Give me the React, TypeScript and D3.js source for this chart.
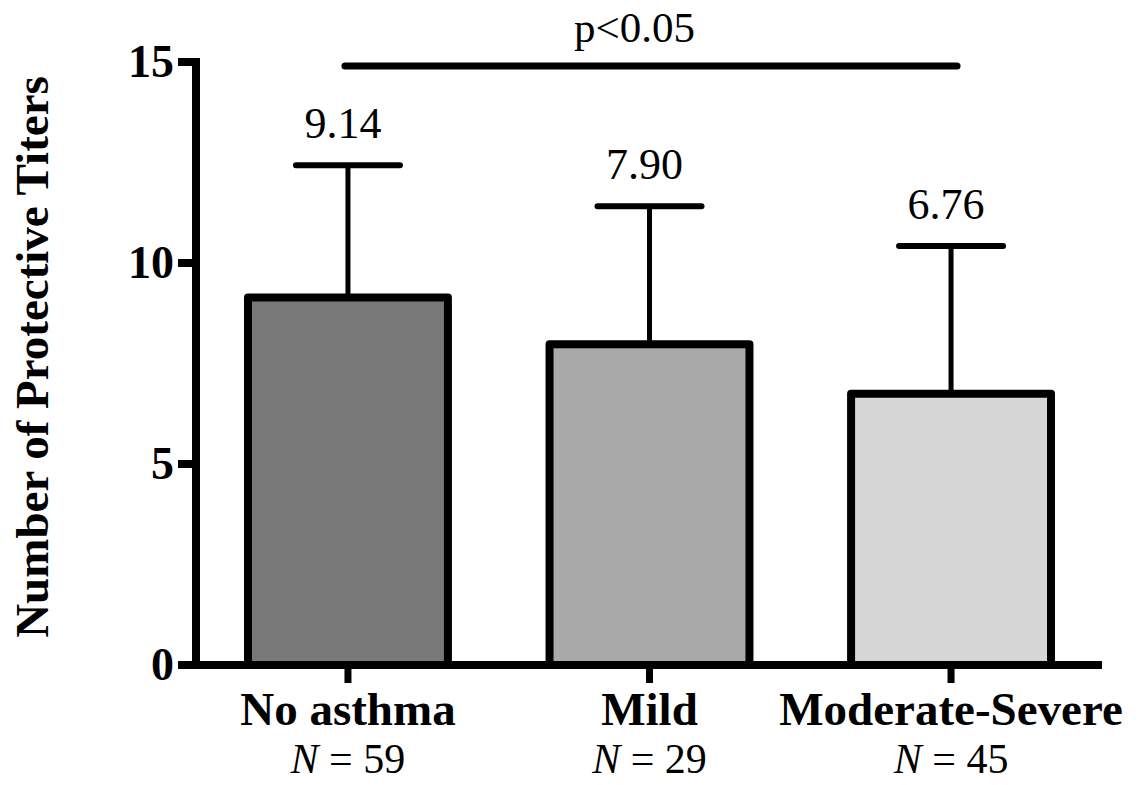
import React from "react";
import * as d3 from "d3";

const categories = ["No asthma", "Mild", "Moderate-Severe"];
const nLabels = ["59", "29", "45"];
const means = [9.14, 7.98, 6.75];
const errorTops = [12.43, 11.41, 10.42];
const valueLabels = ["9.14", "7.90", "6.76"];
const fills = ["#787878", "#a9a9a9", "#d6d6d6"];
const yTickValues = [0, 5, 10, 15];
const sigLabel = "p<0.05";
const yTitle = "Number of Protective Titers";

const W = 1143;
const H = 785;
const FONT = "'Liberation Serif', 'Times New Roman', Times, serif";

export default function App() {
  const x = d3.scaleBand<string>().domain(categories).range([248, 1051]).paddingInner(0.337).paddingOuter(0);
  const y = d3.scaleLinear().domain([0, 15]).range([665, 62]);
  const bw = x.bandwidth();
  const cx = (c: string) => (x(c) as number) + bw / 2;
  const axisX = 196;
  const capHalf = 52;

  return (
    <svg width={W} height={H} style={{ position: "absolute", left: 0, top: 0, background: "#fff" }} fontFamily={FONT}>
      <rect x={0} y={0} width={W} height={H} fill="#fff" />
      {/* error bars */}
      {categories.map((c, i) => (
        <g key={"e" + c}>
          <line x1={cx(c)} x2={cx(c)} y1={y(means[i])} y2={y(errorTops[i])} stroke="#000" strokeWidth={5} />
          <line x1={cx(c) - capHalf} x2={cx(c) + capHalf} y1={y(errorTops[i])} y2={y(errorTops[i])} stroke="#000" strokeWidth={6} strokeLinecap="round" />
        </g>
      ))}
      {/* bars */}
      {categories.map((c, i) => (
        <rect key={"b" + c} x={x(c)} y={y(means[i])} width={bw} height={y(0) - y(means[i])} fill={fills[i]} stroke="#000" strokeWidth={8} strokeLinejoin="round" />
      ))}
      {/* value labels */}
      {categories.map((c, i) => (
        <text key={"v" + c} x={cx(c) - 5} y={y(errorTops[i]) - 27} textAnchor="middle" fontSize={44} fill="#000">
          {valueLabels[i]}
        </text>
      ))}
      {/* y axis */}
      <line x1={axisX} x2={axisX} y1={y(15) - 4} y2={y(0)} stroke="#000" strokeWidth={8} />
      {yTickValues.map((t) => (
        <g key={"yt" + t}>
          <line x1={axisX - 18} x2={axisX} y1={y(t)} y2={y(t)} stroke="#000" strokeWidth={8} />
          <text x={174} y={y(t) + 15} textAnchor="end" fontSize={46} fontWeight="bold" fill="#000">
            {t}
          </text>
        </g>
      ))}
      {/* x axis */}
      <line x1={axisX - 18} x2={1102} y1={y(0)} y2={y(0)} stroke="#000" strokeWidth={8} />
      {categories.map((c, i) => (
        <g key={"xt" + c}>
          <line x1={cx(c)} x2={cx(c)} y1={y(0)} y2={y(0) + 18} stroke="#000" strokeWidth={7} />
          <text x={cx(c)} y={725} textAnchor="middle" fontSize={47} fontWeight="bold" fill="#000">
            {c}
          </text>
          <text x={cx(c)} y={773} textAnchor="middle" fontSize={42} fill="#000">
            <tspan fontStyle="italic">N</tspan>
            <tspan>{" = " + nLabels[i]}</tspan>
          </text>
        </g>
      ))}
      {/* significance */}
      <line x1={cx(categories[0]) - 3} x2={cx(categories[2]) + 6} y1={66} y2={66} stroke="#000" strokeWidth={7} strokeLinecap="round" />
      <text x={(cx(categories[0]) + cx(categories[2])) / 2 - 15} y={42} textAnchor="middle" fontSize={43} fill="#000">
        {sigLabel}
      </text>
      {/* y title */}
      <text transform={`translate(48, 357) rotate(-90)`} textAnchor="middle" fontSize={47} fontWeight="bold" fill="#000">
        {yTitle}
      </text>
    </svg>
  );
}
